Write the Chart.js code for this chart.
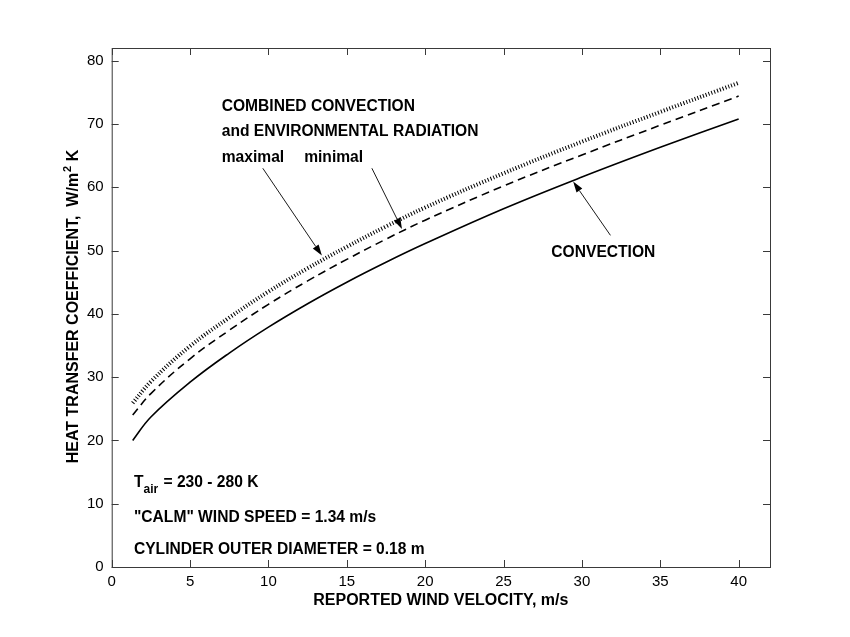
<!DOCTYPE html>
<html>
<head>
<meta charset="utf-8">
<title>Heat transfer coefficient vs wind velocity</title>
<script src="https://cdn.jsdelivr.net/npm/chart.js@4.4.1/dist/chart.umd.min.js"></script>
<style>
  html, body { margin: 0; padding: 0; background: #fff; }
  #wrap { width: 850px; height: 637px; }
</style>
</head>
<body>
<div id="wrap"><canvas id="chart" width="850" height="637"></canvas></div>
<script>
// --- DATA ---
const windSpeed = [1.34, 2.5, 5, 7.5, 10, 12.5, 15, 17.5, 20, 25, 30, 35, 40];
const convection = [20.0, 23.7, 29.2, 33.8, 37.9, 41.6, 45.0, 48.15, 51.1, 56.6, 61.6, 66.3, 70.8];
const combinedMin = [24.0, 27.4, 32.9, 37.4, 41.5, 45.2, 48.6, 51.8, 54.8, 60.2, 65.1, 69.8, 74.4];
const combinedMax = [25.9, 29.3, 34.9, 39.4, 43.5, 47.2, 50.6, 53.8, 56.8, 62.2, 67.2, 71.9, 76.5];

const xTicks = [0, 5, 10, 15, 20, 25, 30, 35, 40];
const yTicks = [0, 10, 20, 30, 40, 50, 60, 70, 80];

// text labels and arrows, placed in data units
const notes = [
    { text: 'COMBINED CONVECTION', x: 7.02, y: 72.7 },
    { text: 'and ENVIRONMENTAL RADIATION', x: 7.02, y: 68.8 },
    { text: 'maximal', x: 7.02, y: 64.6 },
    { text: 'minimal', x: 12.28, y: 64.6 },
    { text: 'CONVECTION', x: 28.05, y: 49.7 },
    { text: '"CALM" WIND SPEED = 1.34 m/s', x: 1.42, y: 7.8 },
    { text: 'CYLINDER OUTER DIAMETER = 0.18 m', x: 1.42, y: 2.8 }
];
const arrows = [
    { from: [9.64, 63.0], to: [13.41, 49.2] },
    { from: [16.6, 63.0], to: [18.52, 53.4] },
    { from: [31.82, 52.4], to: [29.44, 60.9] }
];

const FONT = '"Liberation Sans", Arial, Helvetica, sans-serif';
const FRAME = '#3a3a3a';

function toPoints(ys) {
    return windSpeed.map((x, i) => ({ x: x, y: ys[i] }));
}

// --- PLUGIN: box frame, inward ticks, y title, notes ---
const framePlugin = {
    id: 'frame',
    afterDatasetsDraw(chart) {
        const ctx = chart.ctx;
        const { left, right, top, bottom } = chart.chartArea;
        const xs = chart.scales.x, ys = chart.scales.y;
        const tl = 7;

        ctx.save();
        ctx.strokeStyle = FRAME;
        ctx.lineWidth = 1;
        ctx.strokeRect(left + 0.5, top + 0.5, right - left, bottom - top);
        ctx.beginPath();
        xTicks.forEach(v => {
            const px = Math.round(xs.getPixelForValue(v)) + 0.5;
            ctx.moveTo(px, bottom); ctx.lineTo(px, bottom - tl);
            ctx.moveTo(px, top); ctx.lineTo(px, top + tl);
        });
        yTicks.forEach(v => {
            const py = Math.round(ys.getPixelForValue(v)) + 0.5;
            ctx.moveTo(left, py); ctx.lineTo(left + tl, py);
            ctx.moveTo(right, py); ctx.lineTo(right - tl, py);
        });
        ctx.stroke();

        ctx.fillStyle = '#000';
        ctx.textBaseline = 'middle';
        ctx.textAlign = 'left';

        // y axis title with superscript, rotated
        ctx.save();
        ctx.translate(74, 307);
        ctx.rotate(-Math.PI / 2);
        const partA = 'HEAT TRANSFER COEFFICIENT,  W/m', partB = '2', partC = ' K';
        ctx.font = 'bold 16px ' + FONT;
        const wA = ctx.measureText(partA).width, wC = ctx.measureText(partC).width;
        ctx.font = 'bold 11px ' + FONT;
        const wB = ctx.measureText(partB).width;
        let sx = -(wA + wB + wC) / 2;
        ctx.font = 'bold 16px ' + FONT;
        ctx.fillText(partA, sx, 0);
        sx += wA;
        ctx.font = 'bold 11px ' + FONT;
        ctx.fillText(partB, sx + 1, -6);
        sx += wB + 1;
        ctx.font = 'bold 16px ' + FONT;
        ctx.fillText(partC, sx, 0);
        ctx.restore();

        // notes
        ctx.font = 'bold 15.6px ' + FONT;
        notes.forEach(n => {
            ctx.fillText(n.text, xs.getPixelForValue(n.x), ys.getPixelForValue(n.y));
        });

        // T_air line with subscript
        let tx = xs.getPixelForValue(1.42);
        const ty = ys.getPixelForValue(13.3);
        ctx.fillText('T', tx, ty);
        tx += ctx.measureText('T').width;
        ctx.font = 'bold 12px ' + FONT;
        ctx.fillText('air', tx, ty + 7);
        tx += ctx.measureText('air').width + 1;
        ctx.font = 'bold 15.6px ' + FONT;
        ctx.fillText(' = 230 - 280 K', tx, ty);

        // arrows
        ctx.strokeStyle = '#000';
        ctx.lineWidth = 0.9;
        arrows.forEach(a => {
            const x1 = xs.getPixelForValue(a.from[0]), y1 = ys.getPixelForValue(a.from[1]);
            const x2 = xs.getPixelForValue(a.to[0]), y2 = ys.getPixelForValue(a.to[1]);
            const ang = Math.atan2(y2 - y1, x2 - x1);
            const hl = 11, hw = 3.5;
            ctx.beginPath();
            ctx.moveTo(x1, y1);
            ctx.lineTo(x2 - hl * Math.cos(ang), y2 - hl * Math.sin(ang));
            ctx.stroke();
            ctx.beginPath();
            ctx.moveTo(x2, y2);
            ctx.lineTo(x2 - hl * Math.cos(ang) + hw * Math.sin(ang), y2 - hl * Math.sin(ang) - hw * Math.cos(ang));
            ctx.lineTo(x2 - hl * Math.cos(ang) - hw * Math.sin(ang), y2 - hl * Math.sin(ang) + hw * Math.cos(ang));
            ctx.closePath();
            ctx.fill();
        });
        ctx.restore();
    }
};

// --- CHART ---
new Chart(document.getElementById('chart'), {
    type: 'line',
    data: {
        datasets: [
            { label: 'Convection', data: toPoints(convection), borderColor: '#000', borderWidth: 1.6 },
            { label: 'Combined, minimal', data: toPoints(combinedMin), borderColor: '#000', borderWidth: 1.6, borderDash: [8, 5] },
            { label: 'Combined, maximal', data: toPoints(combinedMax), borderColor: '#000', borderWidth: 4, borderDash: [1, 2] }
        ]
    },
    options: {
        responsive: false,
        animation: false,
        devicePixelRatio: 1,
        layout: { padding: { left: 0, top: 48, right: 80, bottom: 0 } },
        elements: {
            point: { radius: 0 },
            line: { tension: 0.4, fill: false }
        },
        plugins: { legend: { display: false }, tooltip: { enabled: false } },
        scales: {
            x: {
                type: 'linear',
                min: 0, max: 42,
                afterFit(scale) { scale.height = 70; },
                grid: { display: false, drawTicks: false },
                border: { display: false },
                ticks: { stepSize: 5, includeBounds: false, padding: 6, color: '#000', font: { family: FONT, size: 15 } },
                title: {
                    display: true,
                    text: 'REPORTED WIND VELOCITY, m/s',
                    color: '#000',
                    font: { family: FONT, size: 16, weight: 'bold' },
                    padding: { top: 0, bottom: 27 }
                }
            },
            y: {
                min: 0, max: 82,
                afterFit(scale) { scale.width = 111.7; },
                grid: { display: false, drawTicks: false },
                border: { display: false },
                ticks: { stepSize: 10, includeBounds: false, padding: 8, color: '#000', font: { family: FONT, size: 15 } }
            }
        }
    },
    plugins: [framePlugin]
});
</script>
</body>
</html>
